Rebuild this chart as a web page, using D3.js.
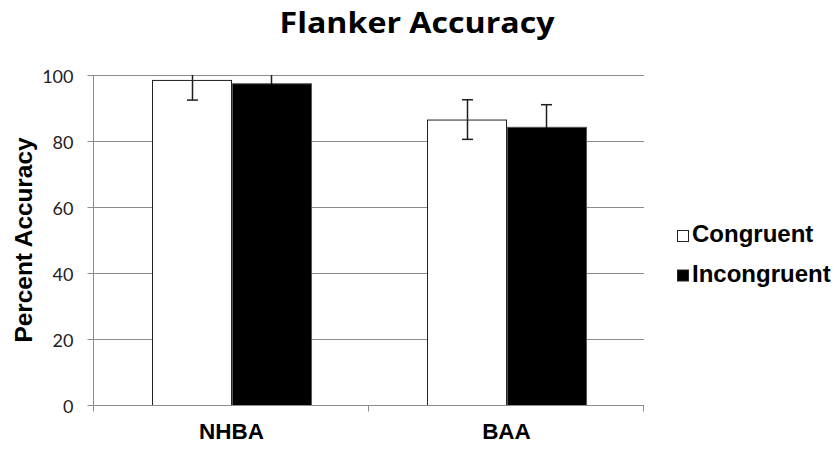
<!DOCTYPE html>
<html>
<head>
<meta charset="utf-8">
<script src="https://cdn.jsdelivr.net/npm/d3@7"></script>
<style>
  html, body { margin: 0; padding: 0; background: #fff; }
  svg { display: block; }
</style>
</head>
<body>
<svg id="chart" width="840" height="449"></svg>
<script>
// Groups along the x axis and the two conditions shown for each group
const groups = ["NHBA", "BAA"];
const conditions = ["Congruent", "Incongruent"];
const congruentMean = [98.5, 86.5];
const incongruentMean = [97.5, 84.3];
const congruentErr = [6.1, 6.0];
const incongruentErr = [6.0, 6.7];
const yTicks = [0, 20, 40, 60, 80, 100];
const condFill = ["#ffffff", "#000000"];
const condStroke = ["#222222", "#555555"];

const svg = d3.select("#chart");
const margin = { left: 94, right: 196, top: 75, bottom: 44 };
const W = 840, H = 449;
const ARIAL = "'Liberation Sans', Arial, sans-serif";

const x = d3.scaleBand().domain(groups).range([margin.left, W - margin.right]).paddingInner(0).paddingOuter(0);
const xc = d3.scaleBand().domain(conditions).range([0, x.bandwidth()]).paddingOuter(0.74).paddingInner(0);
const y = d3.scaleLinear().domain([0, 100]).range([H - margin.bottom, margin.top]);

// Horizontal gridlines
svg.append("g").selectAll("line").data(yTicks.filter(t => t > 0)).join("line")
  .attr("x1", margin.left).attr("x2", W - margin.right)
  .attr("y1", d => y(d) + 0.5).attr("y2", d => y(d) + 0.5)
  .attr("stroke", "#8c8c8c").attr("stroke-width", 1);

// Y axis
const yAxis = svg.append("g").attr("transform", `translate(${margin.left - 0.5},0)`)
  .call(d3.axisLeft(y).tickValues(yTicks).tickSize(6).tickPadding(14));
yAxis.selectAll("path, line").attr("stroke", "#8c8c8c");
yAxis.select(".domain").attr("d", `M0,${y(100)}V${y(0)}`);
yAxis.selectAll("text").attr("font-family", "Lato, 'Open Sans', sans-serif")
  .attr("font-size", 18).attr("fill", "#222").attr("dy", "0.4em");

// Bars
const rows = [];
groups.forEach((g, i) => {
  rows.push({ g, c: conditions[0], v: congruentMean[i], e: congruentErr[i], k: 0 });
  rows.push({ g, c: conditions[1], v: incongruentMean[i], e: incongruentErr[i], k: 1 });
});

svg.append("g").selectAll("rect").data(rows).join("rect")
  .attr("x", d => Math.round(x(d.g) + xc(d.c)) + 0.5)
  .attr("y", d => y(d.v) + 0.5)
  .attr("width", xc.bandwidth())
  .attr("height", d => y(0) - y(d.v))
  .attr("fill", d => condFill[d.k])
  .attr("stroke", d => condStroke[d.k])
  .attr("stroke-width", 1);

// Error bars, clipped at the top of the value axis; on dark bars the part
// inside the bar is drawn in the bar colour so it blends in
const eb = svg.append("g").attr("stroke-width", 1.5);
rows.forEach(d => {
  const cx = Math.round(x(d.g) + xc(d.c) + xc.bandwidth() / 2) + 0.5;
  const hi = Math.min(100, d.v + d.e), lo = d.v - d.e;
  const col = "#1e1e1e";
  const inner = d.k === 1 ? "#000" : col;
  eb.append("line").attr("x1", cx).attr("x2", cx).attr("y1", y(hi)).attr("y2", y(d.v)).attr("stroke", col);
  eb.append("line").attr("x1", cx).attr("x2", cx).attr("y1", y(d.v)).attr("y2", y(lo)).attr("stroke", inner);
  if (d.v + d.e <= 100) eb.append("line").attr("x1", cx - 5.5).attr("x2", cx + 5.5).attr("y1", y(hi)).attr("y2", y(hi)).attr("stroke", col);
  eb.append("line").attr("x1", cx - 5.5).attr("x2", cx + 5.5).attr("y1", y(lo)).attr("y2", y(lo)).attr("stroke", inner);
});

// X axis
const xAxis = svg.append("g").attr("transform", `translate(0,${y(0) + 0.5})`);
xAxis.append("line").attr("x1", margin.left - 0.5).attr("x2", W - margin.right)
  .attr("stroke", "#8c8c8c");
const xBounds = [margin.left, margin.left + x.bandwidth(), W - margin.right];
xAxis.selectAll(".tk").data(xBounds).join("line").attr("class", "tk")
  .attr("x1", d => Math.round(d) - 0.5).attr("x2", d => Math.round(d) - 0.5)
  .attr("y1", 0).attr("y2", 6).attr("stroke", "#8c8c8c");
xAxis.selectAll("text").data(groups).join("text")
  .attr("x", d => x(d) + x.bandwidth() / 2)
  .attr("y", 439 - y(0) - 0.5)
  .attr("text-anchor", "middle")
  .attr("font-family", ARIAL)
  .attr("font-weight", "bold").attr("font-size", 22.5).attr("fill", "#000")
  .text(d => d);

// Title
svg.append("text").attr("x", 417).attr("y", 33).attr("text-anchor", "middle")
  .attr("font-family", "'Open Sans', Lato, sans-serif").attr("font-weight", "bold")
  .attr("font-size", 29).attr("fill", "#000")
  .attr("textLength", 275).attr("lengthAdjust", "spacingAndGlyphs")
  .text("Flanker Accuracy");

// Y axis title
svg.append("text").attr("transform", `translate(32,${(y(0) + y(100)) / 2}) rotate(-90)`)
  .attr("text-anchor", "middle")
  .attr("font-family", ARIAL).attr("font-weight", "bold")
  .attr("font-size", 23).attr("fill", "#000")
  .attr("textLength", 205).attr("lengthAdjust", "spacingAndGlyphs")
  .text("Percent Accuracy");

// Legend
const lg = svg.append("g");
conditions.forEach((c, i) => {
  const base = 242 + i * 39.5;
  lg.append("rect").attr("x", 677.5).attr("y", base - 11.5).attr("width", 11).attr("height", 11)
    .attr("fill", condFill[i]).attr("stroke", "#222").attr("stroke-width", 1);
  lg.append("text").attr("x", 692).attr("y", base)
    .attr("font-family", ARIAL).attr("font-weight", "bold")
    .attr("font-size", 24).attr("fill", "#000").text(c);
});
</script>
</body>
</html>
